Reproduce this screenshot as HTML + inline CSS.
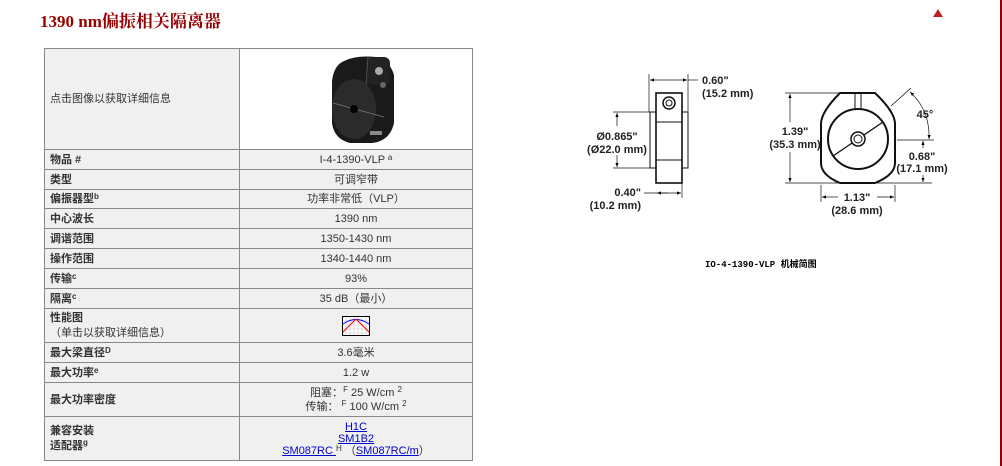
<!DOCTYPE html>
<html><head><meta charset="utf-8"><style>
body{margin:0;width:1002px;height:466px;background:#fff;position:relative;overflow:hidden;font-family:"Liberation Sans","Noto Sans CJK SC",sans-serif;}
.title{position:absolute;left:40px;top:7px;font:bold 17px "Liberation Serif","Noto Serif CJK SC",serif;color:#990000;}
.rb{position:absolute;left:1000px;top:0;width:2px;height:466px;background:#8b0000;}
table{position:absolute;left:44px;top:48px;border-collapse:collapse;width:429px;font-size:11px;color:#333;}
td{border:1px solid #888;background:#f0f0f0;padding:0 0 0 5px;height:18px;line-height:12px;}
td.l{width:189px;font-weight:bold;}
td.r{text-align:center;padding:0;}
td.img{background:#ffffff;}
sup{font-size:8px;vertical-align:top;line-height:8px;}
a{color:#00c;text-decoration:underline;}
.cap{position:absolute;left:705px;top:257px;font:bold 9px "Liberation Mono","Noto Sans CJK SC",monospace;color:#000;}
</style></head><body>
<div class="title">1390 nm偏振相关隔离器</div>
<div style="position:absolute;left:933px;top:9px;width:0;height:0;border-left:5px solid transparent;border-right:5px solid transparent;border-bottom:8px solid #b22;"></div>
<div class="rb"></div>
<table>
<tr><td class="l" style="height:100px;font-weight:normal">点击图像以获取详细信息</td><td class="r img">
<svg width="100" height="96" viewBox="0 0 100 96" style="display:block;margin:0 auto">
<path d="M38 10Q50 4 70 6Q84 10 88 24L88 72Q84 90 66 92L44 92Q28 88 26 72L26 30Q28 14 38 10Z" fill="#1a1a1a"/>
<ellipse cx="48" cy="58" rx="22" ry="30" fill="#2b2b2b"/>
<rect x="60" y="6" width="24" height="28" rx="6" fill="#222"/>
<line x1="62" y1="6" x2="60" y2="34" stroke="#555" stroke-width="0.8"/>
<circle cx="73" cy="20" r="4" fill="#aaa"/><circle cx="77" cy="34" r="3" fill="#666"/>
<line x1="27" y1="52" x2="78" y2="66" stroke="#777" stroke-width="0.8"/>
<circle cx="48" cy="58" r="4" fill="#000"/>
<rect x="64" y="80" width="12" height="4" fill="#888"/>
</svg></td></tr>
<tr><td class="l" style="height:19px">物品 #</td><td class="r">I-4-1390-VLP <sup>a</sup></td></tr>
<tr><td class="l" style="height:19px">类型</td><td class="r">可调窄带</td></tr>
<tr><td class="l">偏振器型<sup>b</sup></td><td class="r">功率非常低（VLP）</td></tr>
<tr><td class="l" style="height:19px">中心波长</td><td class="r">1390 nm</td></tr>
<tr><td class="l" style="height:19px">调谐范围</td><td class="r">1350-1430 nm</td></tr>
<tr><td class="l" style="height:19px">操作范围</td><td class="r">1340-1440 nm</td></tr>
<tr><td class="l" style="height:19px">传输<sup>c</sup></td><td class="r">93%</td></tr>
<tr><td class="l" style="height:19px">隔离<sup>c</sup></td><td class="r">35 dB（最小）</td></tr>
<tr><td class="l" style="height:33px;line-height:15px">性能图<br><span style="font-weight:normal">（单击以获取详细信息）</span></td><td class="r">
<svg width="28" height="20" viewBox="0 0 28 20" style="vertical-align:middle"><rect x="0.5" y="0.5" width="27" height="19" fill="#fff" stroke="#000"/>
<path d="M4 1V19M8 1V19M12 1V19M16 1V19M20 1V19M24 1V19M1 5H27M1 9H27M1 13H27M1 17H27" stroke="#ccc" stroke-width="0.6"/>
<path d="M1 8Q14 -1 27 8" stroke="#00f" fill="none"/><path d="M1 16L14 3L27 16" stroke="#f00" fill="none"/></svg></td></tr>
<tr><td class="l" style="height:19px">最大梁直径<sup>D</sup></td><td class="r">3.6毫米</td></tr>
<tr><td class="l" style="height:19px">最大功率<sup>e</sup></td><td class="r">1.2 w</td></tr>
<tr><td class="l" style="height:33px">最大功率密度</td><td class="r" style="line-height:14px">阻塞：<sup>F</sup> 25 W/cm <sup>2</sup><br>传输： <sup>F</sup> 100 W/cm <sup>2</sup></td></tr>
<tr><td class="l" style="height:43px;line-height:15px">兼容安装<br>适配器<sup>g</sup></td><td class="r" style="line-height:12px"><a>H1C</a><br><a>SM1B2</a><br><a>SM087RC </a><sup>H</sup> （<a>SM087RC/m</a>）</td></tr>
</table>
<svg style="position:absolute;left:0;top:0" width="1002" height="466" font-family="Liberation Sans" font-size="11" font-weight="bold" fill="#222">
<defs><marker id="a" viewBox="0 0 10 10" refX="10" refY="5" markerWidth="6" markerHeight="6" orient="auto-start-reverse"><path d="M0 1L10 5L0 9z" fill="#000"/></marker></defs>
<g stroke="#111" fill="none">
<rect x="650" y="112" width="38" height="56" stroke-width="1"/>
<rect x="656" y="93" width="26" height="90" fill="#fff" stroke-width="1.6"/>
<line x1="656" y1="122" x2="682" y2="122"/><line x1="656" y1="160" x2="682" y2="160"/>
<circle cx="669" cy="103" r="6" stroke-width="1.5"/><circle cx="669" cy="103" r="3"/>
<line x1="649" y1="74" x2="649" y2="112" stroke-width=".7"/><line x1="688" y1="74" x2="688" y2="112" stroke-width=".7"/>
<line x1="650" y1="80" x2="687" y2="80" stroke-width=".7" marker-start="url(#a)" marker-end="url(#a)"/><line x1="688" y1="80" x2="698" y2="80" stroke-width=".7"/>
<line x1="613" y1="112" x2="650" y2="112" stroke-width=".7"/><line x1="613" y1="168" x2="650" y2="168" stroke-width=".7"/>
<line x1="617" y1="113" x2="617" y2="126" stroke-width=".7" marker-start="url(#a)"/><line x1="617" y1="155" x2="617" y2="167" stroke-width=".7" marker-end="url(#a)"/>
<line x1="682" y1="183" x2="682" y2="198" stroke-width=".7"/>
<line x1="644" y1="193" x2="681" y2="193" stroke-width=".7" marker-end="url(#a)"/><line x1="657" y1="193" x2="668" y2="193" stroke-width=".7" marker-start="url(#a)"/>
<path d="M840 93H875Q895 112 895 124V163Q895 175 875 183H840Q821 175 821 163V124Q821 112 840 93Z" stroke-width="2"/>
<circle cx="858" cy="139" r="30" stroke-width="2"/>
<line x1="833" y1="156" x2="883" y2="122" stroke-width="1.3"/>
<circle cx="858" cy="139" r="7" fill="#fff" stroke-width="1.5"/><circle cx="858" cy="139" r="4"/>
<line x1="855" y1="93" x2="855" y2="108"/><line x1="861" y1="93" x2="861" y2="108"/>
<line x1="785" y1="93" x2="842" y2="93" stroke-width=".7"/><line x1="785" y1="183" x2="932" y2="183" stroke-width=".7"/>
<line x1="790" y1="94" x2="790" y2="122" stroke-width=".7" marker-start="url(#a)"/><line x1="790" y1="152" x2="790" y2="182" stroke-width=".7" marker-end="url(#a)"/>
<line x1="821" y1="185" x2="821" y2="202" stroke-width=".7"/><line x1="895" y1="185" x2="895" y2="202" stroke-width=".7"/>
<line x1="822" y1="197" x2="838" y2="197" stroke-width=".7" marker-start="url(#a)"/><line x1="877" y1="197" x2="894" y2="197" stroke-width=".7" marker-end="url(#a)"/>
<line x1="891" y1="106" x2="911" y2="88" stroke-width=".8"/>
<path d="M910 92Q930 110 929 139" stroke-width=".7" marker-start="url(#a)" marker-end="url(#a)"/>
<line x1="897" y1="140" x2="934" y2="140" stroke-width=".7"/>
<line x1="923" y1="141" x2="923" y2="148" stroke-width=".7" marker-start="url(#a)"/><line x1="923" y1="175" x2="923" y2="182" stroke-width=".7" marker-end="url(#a)"/>
</g>
<text x="702" y="84">0.60"</text><text x="702" y="97">(15.2 mm)</text>
<text x="617" y="140" text-anchor="middle">Ø0.865"</text><text x="617" y="153" text-anchor="middle">(Ø22.0 mm)</text>
<text x="641" y="196" text-anchor="end">0.40"</text><text x="641" y="209" text-anchor="end">(10.2 mm)</text>
<text x="795" y="135" text-anchor="middle">1.39"</text><text x="795" y="148" text-anchor="middle">(35.3 mm)</text>
<text x="857" y="201" text-anchor="middle">1.13"</text><text x="857" y="214" text-anchor="middle">(28.6 mm)</text>
<text x="925" y="118" text-anchor="middle">45°</text>
<text x="922" y="160" text-anchor="middle">0.68"</text><text x="922" y="172" text-anchor="middle">(17.1 mm)</text>
</svg>
<div class="cap">IO-4-1390-VLP 机械简图</div>
</body></html>
